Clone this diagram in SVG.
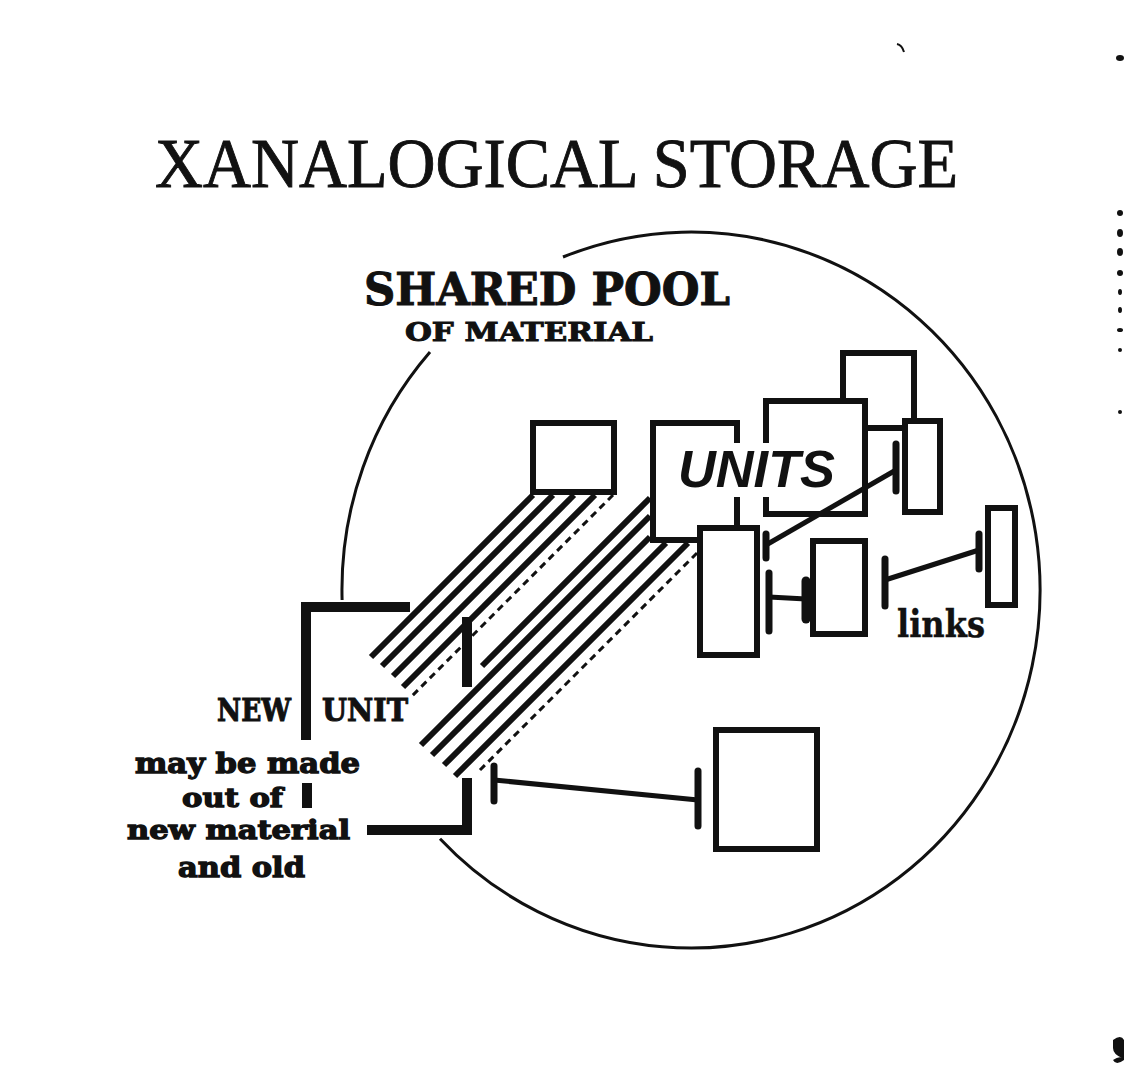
<svg xmlns="http://www.w3.org/2000/svg" width="1124" height="1082" viewBox="0 0 1124 1082">
<defs>
<style>
.box{stroke:#111;fill:none;stroke-width:6;stroke-linecap:square}
.bar{stroke:#111;fill:none;stroke-width:10;stroke-linecap:butt}
.stripe{stroke:#111;stroke-width:6;stroke-linecap:butt}
.dash{stroke:#111;stroke-width:3;stroke-dasharray:7 5}
.link{stroke:#111;stroke-width:5;stroke-linecap:butt}
.tbar{stroke:#111;stroke-width:7;stroke-linecap:round}
.circ{stroke:#111;fill:none;stroke-width:3}
.title{font-family:"Liberation Serif",serif;fill:#111;stroke:#111;stroke-width:0.9}
.slab{font-family:"DejaVu Serif","Liberation Serif",serif;font-weight:bold;fill:#111;stroke:#111;stroke-width:1}
.ital{font-family:"Liberation Sans",sans-serif;font-weight:bold;font-style:italic;fill:#111}
</style>
</defs>
<rect width="1124" height="1082" fill="#fff"/>

<g id="title">
<text class="title" x="155" y="187" font-size="70" textLength="803" lengthAdjust="spacingAndGlyphs">XANALOGICAL STORAGE</text>
</g>

<g id="pool">
<path class="circ" d="M 563 257 A 349 358 0 1 1 440 838.7"/>
<path class="circ" d="M 342.1 600 A 349 358 0 0 1 430 352"/>
<text class="slab" x="364" y="305" font-size="45" textLength="366" lengthAdjust="spacingAndGlyphs">SHARED POOL</text>
<text class="slab" x="405" y="341" font-size="26" textLength="248" lengthAdjust="spacingAndGlyphs">OF MATERIAL</text>
</g>

<g id="connectors">
<line class="stripe" x1="533" y1="495" x2="371" y2="657"/>
<line class="stripe" x1="553" y1="495" x2="382" y2="666"/>
<line class="stripe" x1="574" y1="495" x2="393" y2="676"/>
<line class="stripe" x1="595" y1="495" x2="403" y2="687"/>
<line class="dash" x1="613" y1="495" x2="412" y2="696"/>
<line class="stripe" x1="650" y1="498" x2="482" y2="666"/>
<line class="stripe" x1="650" y1="516" x2="421" y2="745"/>
<line class="stripe" x1="650" y1="537" x2="432" y2="755"/>
<line class="stripe" x1="666" y1="543" x2="444" y2="765"/>
<line class="stripe" x1="688" y1="543" x2="455" y2="776"/>
<line class="dash" x1="697" y1="553" x2="480" y2="770"/>
<line class="link" x1="766" y1="545" x2="896" y2="470"/>
<line class="tbar" x1="766" y1="534" x2="766" y2="558"/>
<line class="tbar" x1="896" y1="444" x2="896" y2="491"/>
<line class="link" x1="769" y1="597" x2="806" y2="599"/>
<line class="tbar" x1="769" y1="573" x2="769" y2="631"/>
<line class="tbar" x1="806" y1="581" x2="806" y2="619" style="stroke-width:9"/>
<line class="link" x1="885" y1="580" x2="979" y2="550"/>
<line class="tbar" x1="885" y1="559" x2="885" y2="606"/>
<line class="tbar" x1="979" y1="534" x2="979" y2="569"/>
<line class="link" x1="494" y1="780" x2="698" y2="800"/>
<line class="tbar" x1="494" y1="766" x2="494" y2="801"/>
<line class="tbar" x1="698" y1="771" x2="698" y2="826"/>
</g>

<g id="unit-small">
<rect class="box" x="533" y="423" width="81" height="69"/>
</g>

<g id="unit-third">
<path class="box" d="M 843 401 V 353 H 914 V 421 M 868 428 H 903"/>
</g>

<g id="unit-second">
<path class="box" d="M 766 440 V 401 H 865 V 514 H 766 V 500"/>
</g>

<g id="unit-units">
<path class="box" d="M 737 440 V 423 H 653 V 540 H 698"/>
<line class="box" x1="737" y1="500" x2="737" y2="526"/>
<text class="ital" x="678" y="487" font-size="52" textLength="157" lengthAdjust="spacingAndGlyphs">UNITS</text>
</g>

<g id="unit-smalltall">
<rect class="box" x="905" y="421" width="35" height="91"/>
</g>

<g id="unit-tall">
<rect class="box" x="700" y="528" width="57" height="127"/>
</g>

<g id="unit-middle">
<rect class="box" x="813" y="541" width="52" height="93"/>
</g>

<g id="unit-right">
<rect class="box" x="988" y="508" width="27" height="97"/>
</g>

<g id="unit-bottom">
<rect class="box" x="716" y="730" width="101" height="119"/>
</g>

<g id="links-label">
<text class="slab" x="897" y="637" font-size="38" textLength="88" lengthAdjust="spacingAndGlyphs" style="stroke-width:0.4">links</text>
</g>

<g id="new-unit">
<path class="bar" d="M 410 607 H 306 V 740"/>
<line class="bar" x1="467" y1="617" x2="467" y2="687"/>
<line class="bar" x1="307" y1="783" x2="307" y2="808"/>
<path class="bar" d="M 367 830 H 467 V 778"/>
<text class="slab" x="217" y="721" font-size="31" textLength="74" lengthAdjust="spacingAndGlyphs">NEW</text>
<text class="slab" x="322" y="721" font-size="31" textLength="86" lengthAdjust="spacingAndGlyphs">UNIT</text>
<text class="slab" x="135" y="773" font-size="27" textLength="225" lengthAdjust="spacingAndGlyphs" style="stroke-width:1.3">may be made</text>
<text class="slab" x="182" y="807" font-size="26" textLength="101" lengthAdjust="spacingAndGlyphs" style="stroke-width:1.3">out of</text>
<text class="slab" x="127" y="839" font-size="26" textLength="223" lengthAdjust="spacingAndGlyphs" style="stroke-width:1.3">new material</text>
<text class="slab" x="178" y="877" font-size="27" textLength="127" lengthAdjust="spacingAndGlyphs" style="stroke-width:1.3">and old</text>
</g>

<g id="scan-marks" fill="#111">
<ellipse cx="1120" cy="58" rx="4" ry="3"/>
<ellipse cx="1120" cy="213" rx="3" ry="3"/>
<ellipse cx="1120" cy="233" rx="3" ry="4"/>
<ellipse cx="1120" cy="252" rx="3" ry="4"/>
<ellipse cx="1120" cy="273" rx="3" ry="3"/>
<ellipse cx="1120" cy="292" rx="2" ry="3"/>
<ellipse cx="1120" cy="310" rx="2" ry="3"/>
<ellipse cx="1120" cy="330" rx="3" ry="2"/>
<ellipse cx="1120" cy="350" rx="2" ry="2"/>
<ellipse cx="1120" cy="412" rx="2" ry="2"/>
<path d="M1113 1040 q8 -6 11 0 v20 q-8 6 -11 0 q6 -4 9 -2 q-9 -4 -9 -10z"/>
<path d="M897 44 q5 1 7 8" stroke="#111" stroke-width="2" fill="none"/>
</g>
</svg>
